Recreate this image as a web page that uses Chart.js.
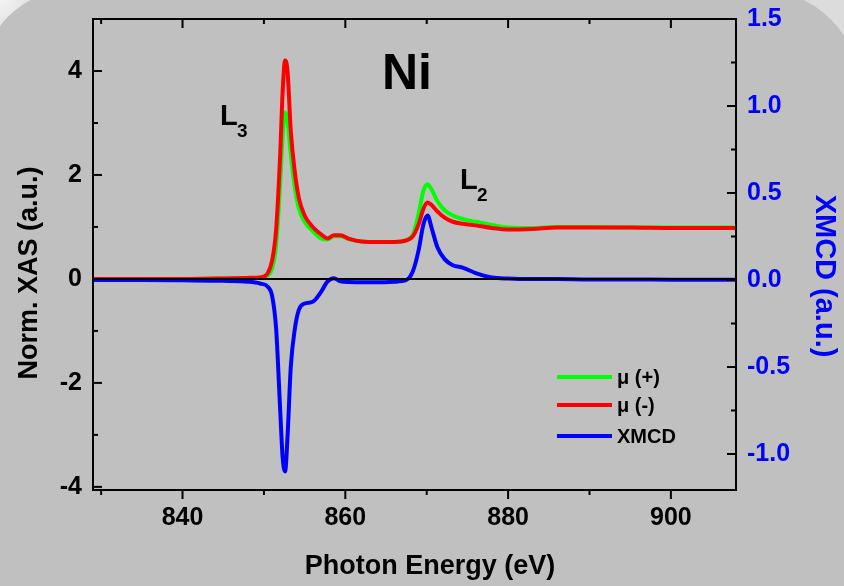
<!DOCTYPE html>
<html>
<head>
<meta charset="utf-8">
<title>Ni L-edge XAS / XMCD</title>
<script src="https://cdn.jsdelivr.net/npm/chart.js@4.4.1/dist/chart.umd.min.js"></script>
<style>
    html, body {
        margin: 0;
        padding: 0;
        width: 844px;
        height: 586px;
        overflow: hidden;
        background: radial-gradient(circle at 0 0, #f4f4f4 0, #dcdcdc 40px, #dcdcdc 100%);
    }
    #panel {
        position: absolute;
        left: -18px;
        top: -10px;
        width: 878px;
        height: 640px;
        background: #c0c0c0;
        border-top-left-radius: 90px;
        border-top-right-radius: 100px;
    }
    #chart {
        position: absolute;
        left: 0;
        top: 0;
    }
</style>
</head>
<body>
<div id="panel"></div>
<canvas id="chart" width="844" height="586"></canvas>
<script>
/**
 * Ni L2,3-edge absorption for both helicities and the XMCD difference
 */

// photon energy grid (eV)
const energy = [829, 835, 840, 845, 848, 849.5, 850.5, 851, 851.5, 852, 852.3, 852.6, 852.9, 853.3, 853.8,
    854.3, 855, 856, 857, 857.8, 858.6, 859.4, 860.5, 862, 864, 866, 867.5, 868.3, 869, 869.6, 870.1,
    870.6, 871.3, 872.2, 873.2, 874.5, 876, 878, 880, 883, 886, 890, 895, 900, 904, 908];

// normalised XAS, mu(+)
const muPlus = [0.0, 0.0, 0.0, 0.01, 0.02, 0.02, 0.07, 0.2, 0.65, 1.85, 2.75, 3.2, 3.05, 2.4, 1.75,
    1.35, 1.1, 0.92, 0.78, 0.76, 0.82, 0.82, 0.76, 0.72, 0.71, 0.71, 0.75, 0.85, 1.25, 1.7, 1.82,
    1.72, 1.5, 1.32, 1.22, 1.15, 1.1, 1.04, 0.99, 0.98, 1.0, 1.0, 0.99, 0.99, 0.99, 0.99];

// normalised XAS, mu(-)
const muMinus = [0.0, 0.0, 0.0, 0.01, 0.02, 0.03, 0.12, 0.35, 0.95, 2.4, 3.6, 4.2, 4.0, 2.85, 2.05,
    1.55, 1.22, 1.0, 0.86, 0.78, 0.84, 0.84, 0.77, 0.72, 0.71, 0.71, 0.74, 0.82, 1.05, 1.35, 1.47,
    1.42, 1.3, 1.18, 1.1, 1.06, 1.03, 0.98, 0.95, 0.96, 0.99, 0.99, 0.99, 0.98, 0.98, 0.98];

// XMCD (right axis)
const xmcd = [0.0, 0.0, -0.002, -0.005, -0.01, -0.02, -0.04, -0.09, -0.28, -0.75, -1.02, -1.1, -0.9, -0.5, -0.28,
    -0.17, -0.135, -0.125, -0.07, -0.01, 0.01, -0.008, -0.012, -0.013, -0.013, -0.01, 0.0, 0.05, 0.17, 0.32, 0.37,
    0.3, 0.19, 0.12, 0.085, 0.07, 0.04, 0.015, 0.008, 0.005, 0.005, 0.003, 0.003, 0.002, 0.002, 0.002];

const seriesLabels = ['\u03bc (+)', '\u03bc (-)', 'XMCD'];
const seriesColors = ['#00ff00', '#ff0000', '#0000ff'];

// axis ticks
const xMajorTicks = [840, 860, 880, 900];
const xMinorTicks = [830, 850, 870, 890];
const yMajorTicks = [-4, -2, 0, 2, 4];
const yMinorTicks = [-3, -1, 1, 3];
const y2MajorTicks = [-1.0, -0.5, 0.0, 0.5, 1.0, 1.5];
const y2MinorTicks = [-0.75, -0.25, 0.25, 0.75, 1.25];

const FONT = 'Liberation Sans, Arial, Helvetica, sans-serif';
const AXIS_BLUE = '#0000ff';

function points(ys) {
    return energy.map((e, i) => ({ x: e, y: ys[i] }));
}

function fixedTicks(values) {
    return scale => {
        scale.ticks = values.map(v => ({ value: v }));
    };
}

// fixed box size; tick labels are allowed to overhang the plot area
function fixedSize(prop, size) {
    return scale => {
        scale[prop] = size;
        scale.paddingTop = 0;
        scale.paddingBottom = 0;
        scale.paddingLeft = 0;
        scale.paddingRight = 0;
    };
}

// frame, inward/outward ticks, zero line, annotations and legend
const decorations = {
    id: 'decorations',
    afterDatasetsDraw(chart) {
        const ctx = chart.ctx;
        const area = chart.chartArea;
        const x = chart.scales.x, y = chart.scales.y, y2 = chart.scales.y2;

        ctx.save();
        ctx.strokeStyle = '#000';
        ctx.lineWidth = 2;

        // zero line
        const y0 = Math.round(y.getPixelForValue(0));
        ctx.beginPath();
        ctx.moveTo(area.left, y0);
        ctx.lineTo(area.right, y0);
        ctx.stroke();

        // frame
        ctx.strokeRect(area.left, area.top, area.right - area.left, area.bottom - area.top);

        const tick = (x1, y1, x2, y2p) => {
            ctx.beginPath();
            ctx.moveTo(x1, y1);
            ctx.lineTo(x2, y2p);
            ctx.stroke();
        };

        // bottom ticks point outward, top ticks inward
        xMajorTicks.forEach(v => {
            const px = x.getPixelForValue(v);
            tick(px, area.bottom, px, area.bottom + 9);
            tick(px, area.top, px, area.top + 9);
        });
        xMinorTicks.forEach(v => {
            const px = x.getPixelForValue(v);
            tick(px, area.bottom, px, area.bottom + 5);
            tick(px, area.top, px, area.top + 5);
        });

        // left and right ticks point inward
        yMajorTicks.forEach(v => {
            const py = y.getPixelForValue(v);
            tick(area.left, py, area.left + 9, py);
        });
        yMinorTicks.forEach(v => {
            const py = y.getPixelForValue(v);
            tick(area.left, py, area.left + 5, py);
        });
        y2MajorTicks.forEach(v => {
            const py = y2.getPixelForValue(v);
            tick(area.right, py, area.right - 9, py);
        });
        y2MinorTicks.forEach(v => {
            const py = y2.getPixelForValue(v);
            tick(area.right, py, area.right - 5, py);
        });

        // axis titles
        ctx.fillStyle = '#000';
        ctx.textAlign = 'center';
        ctx.textBaseline = 'middle';
        ctx.font = 'bold 27px ' + FONT;
        ctx.fillText('Photon Energy (eV)', 430, 567);

        ctx.save();
        ctx.translate(30, 273);
        ctx.rotate(-Math.PI / 2);
        ctx.fillText('Norm. XAS (a.u.)', 0, 0);
        ctx.restore();

        ctx.save();
        ctx.fillStyle = AXIS_BLUE;
        ctx.font = 'bold 29px ' + FONT;
        ctx.translate(824, 276);
        ctx.rotate(Math.PI / 2);
        ctx.fillText('XMCD (a.u.)', 0, 0);
        ctx.restore();

        // element and edge labels
        ctx.font = 'bold 50px ' + FONT;
        ctx.fillText('Ni', 407, 75);

        const edgeLabel = (sub, lx, ly) => {
            ctx.textAlign = 'left';
            ctx.textBaseline = 'alphabetic';
            ctx.font = 'bold 29px ' + FONT;
            ctx.fillText('L', lx, ly);
            ctx.font = 'bold 19px ' + FONT;
            ctx.fillText(sub, lx + 17, ly + 12);
        };
        edgeLabel('3', 220, 125);
        edgeLabel('2', 460, 189);

        // legend
        ctx.textAlign = 'left';
        ctx.textBaseline = 'middle';
        ctx.font = 'bold 20px ' + FONT;
        const legendRows = [377, 405, 436];
        seriesLabels.forEach((label, i) => {
            ctx.strokeStyle = seriesColors[i];
            ctx.lineWidth = 4;
            tick(557, legendRows[i], 612, legendRows[i]);
            ctx.fillStyle = '#000';
            ctx.fillText(label, 617, legendRows[i] + 1);
        });

        ctx.restore();
    }
};

const tickFont = { family: FONT, size: 25, weight: 'bold' };

new Chart(document.getElementById('chart').getContext('2d'), {
    type: 'line',
    data: {
        datasets: [
            {
                label: seriesLabels[0],
                data: points(muPlus),
                borderColor: seriesColors[0],
                yAxisID: 'y',
                order: 3
            },
            {
                label: seriesLabels[1],
                data: points(muMinus),
                borderColor: seriesColors[1],
                yAxisID: 'y',
                order: 2
            },
            {
                label: seriesLabels[2],
                data: points(xmcd),
                borderColor: seriesColors[2],
                yAxisID: 'y2',
                order: 1
            }
        ]
    },
    options: {
        responsive: false,
        animation: false,
        layout: { padding: { top: 19, left: 0, right: 0, bottom: 0 } },
        elements: {
            point: { radius: 0 },
            line: { borderWidth: 4, cubicInterpolationMode: 'monotone', fill: false }
        },
        plugins: {
            legend: { display: false },
            tooltip: { enabled: false }
        },
        scales: {
            x: {
                type: 'linear',
                min: 829,
                max: 908,
                afterBuildTicks: fixedTicks(xMajorTicks),
                afterFit: fixedSize('height', 96),
                grid: { display: false, drawTicks: false },
                border: { display: false },
                ticks: { font: tickFont, color: '#000', padding: 13, maxRotation: 0 }
            },
            y: {
                position: 'left',
                min: -4.06,
                max: 5.0,
                afterBuildTicks: fixedTicks(yMajorTicks),
                afterFit: fixedSize('width', 93),
                grid: { display: false, drawTicks: false },
                border: { display: false },
                ticks: { font: tickFont, color: '#000', padding: 11 }
            },
            y2: {
                position: 'right',
                min: -1.207,
                max: 1.5,
                afterBuildTicks: fixedTicks(y2MajorTicks),
                afterFit: fixedSize('width', 108),
                grid: { display: false, drawTicks: false },
                border: { display: false },
                ticks: {
                    font: tickFont,
                    color: AXIS_BLUE,
                    padding: 11,
                    callback: v => v.toFixed(1)
                }
            }
        }
    },
    plugins: [decorations]
});
</script>
</body>
</html>
